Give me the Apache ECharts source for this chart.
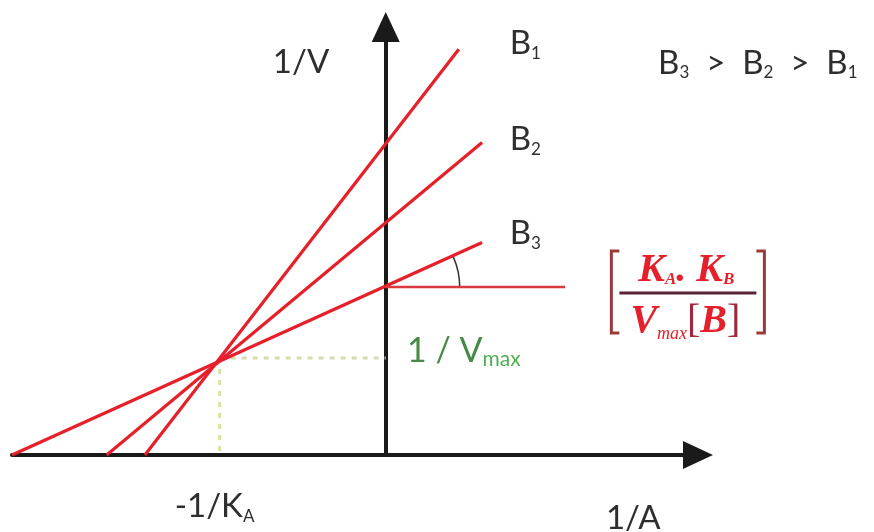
<!DOCTYPE html>
<html>
<head>
<meta charset="utf-8">
<script src="https://cdn.jsdelivr.net/npm/echarts@6/dist/echarts.min.js"></script>
<style>
  html, body { margin: 0; background: #ffffff; }
  #main { width: 874px; height: 532px; }
</style>
</head>
<body>
<div id="main"></div>
<script>
// 坐标范围：横轴 1/A，纵轴 1/V（-1/KA 记为 -1，1/Vmax 记为 1）
const xRange = [-2.25, 1.88];
const yRange = [0, 4.41];

// 三条直线 B1 B2 B3，起点在横轴上
const lineNames = ['B1', 'B2', 'B3'];
const lineStart = [[-1.45, 0], [-1.68, 0], [-2.25, 0]];
const lineEnd = [[0.44, 4.18], [0.58, 3.22], [0.58, 2.19]];

// 交点 (-1/KA, 1/Vmax)
const crossPoint = [-1, 1];
// B3 的纵轴截距 和 斜率示意水平线终点
const b3Intercept = 1.73;
const slopeLineEnd = 1.08;

// 文字标注（数据坐标）
const labelTexts = [
  '{n|1/V}',
  '{n|B}{s|1}',
  '{n|B}{s|2}',
  '{n|B}{s|3}',
  '{n|B}{s|3}{n|  >  B}{s|2}{n|  >  B}{s|1}',
  '{g|1 / V}{gs|max}',
  '{n|-1/K}{s|A}',
  '{n|1/A}'
];
const labelPos = [
  [-0.51, 4.05],
  [0.84, 4.24],
  [0.84, 3.25],
  [0.84, 2.28],
  [2.24, 4.04],
  [0.47, 1.07],
  [-1.03, -0.53],
  [1.49, -0.65]
];
// 斜率公式的位置
const fracPos = [1.81, 1.67];

const red = '#e6202b';

let chart = echarts.init(document.getElementById('main'));

let series = [];
lineNames.forEach(function (name, i) {
  series.push({
    name: name,
    type: 'line',
    data: [lineStart[i], lineEnd[i]],
    symbol: 'none',
    clip: false,
    lineStyle: { color: red, width: 3.2 }
  });
});
// 斜率示意水平线
series.push({
  type: 'line',
  data: [[0, b3Intercept], [slopeLineEnd, b3Intercept]],
  symbol: 'none',
  lineStyle: { color: '#d83a40', width: 2.5 }
});
// 虚线 到 1/Vmax 和 -1/KA
series.push({
  type: 'line',
  data: [crossPoint, [0, crossPoint[1]]],
  symbol: 'none',
  z: 1,
  lineStyle: { color: '#d3dcae', width: 3, type: [5, 6] }
});
series.push({
  type: 'line',
  data: [crossPoint, [crossPoint[0], 0]],
  symbol: 'none',
  z: 1,
  lineStyle: { color: '#dbe2a4', width: 3, type: [5, 6] }
});
// 角度弧
series.push({
  type: 'custom',
  data: [[0, b3Intercept]],
  renderItem: function (params, api) {
    let c = api.coord([api.value(0), api.value(1)]);
    let a = api.coord(lineStart[2]);
    let b = api.coord(lineEnd[2]);
    let ang = Math.atan2(b[1] - a[1], b[0] - a[0]);
    return {
      type: 'arc',
      shape: { cx: c[0], cy: c[1], r: 74, startAngle: ang, endAngle: 0, clockwise: true },
      style: { stroke: '#333333', lineWidth: 1.5, fill: null }
    };
  }
});

let axisCommon = {
  type: 'value',
  axisLine: {
    onZero: true,
    symbol: ['none', 'triangle'],
    symbolSize: [28, 30],
    lineStyle: { color: '#1a1a1a', width: 4 }
  },
  axisTick: { show: false },
  axisLabel: { show: false },
  splitLine: { show: false }
};

let option = {
  backgroundColor: '#ffffff',
  animation: false,
  grid: { left: 12, right: 176, top: 27, bottom: 77 },
  xAxis: Object.assign({ min: xRange[0], max: xRange[1] }, axisCommon),
  yAxis: Object.assign({ min: yRange[0], max: yRange[1] }, axisCommon),
  series: series
};
chart.setOption(option);

// 标注文字
let rich = {
  n: { fontFamily: 'Lato', fontSize: 33, fill: '#2e2e2e' },
  s: { fontFamily: 'Lato', fontSize: 17, fill: '#2e2e2e', padding: [20, 0, 0, 0] },
  g: { fontFamily: 'Lato', fontSize: 34, fill: '#468a46' },
  gs: { fontFamily: 'Lato', fontSize: 21, fill: '#4fae4f', padding: [16, 0, 0, 0] }
};
let graphics = labelTexts.map(function (t, i) {
  let p = chart.convertToPixel({ gridIndex: 0 }, labelPos[i]);
  return {
    type: 'text',
    x: p[0], y: p[1],
    silent: true,
    style: { text: t, rich: rich, align: 'center', verticalAlign: 'middle' }
  };
});

// 斜率 KA.KB / Vmax[B]
let f = chart.convertToPixel({ gridIndex: 0 }, fracPos);
let fracRich = {
  k: { fontFamily: 'Liberation Serif', fontStyle: 'italic', fontWeight: 'bold', fontSize: 40, fill: red },
  s: { fontFamily: 'Liberation Serif', fontStyle: 'italic', fontWeight: 'bold', fontSize: 17, fill: red, padding: [18, 0, 0, 0] },
  m: { fontFamily: 'Liberation Serif', fontStyle: 'italic', fontSize: 18, fill: red, padding: [24, 0, 0, 0] },
  b: { fontFamily: 'Liberation Serif', fontSize: 40, fill: '#a0283a' }
};
graphics.push({
  type: 'text', x: f[0], y: f[1] - 22, silent: true,
  style: { text: '{k|K}{s|A}{k|. K}{s|B}', rich: fracRich, align: 'center', verticalAlign: 'middle' }
});
graphics.push({
  type: 'text', x: f[0] - 1, y: f[1] + 29, silent: true,
  style: { text: '{k|V}{m|max}{b|[}{k|B}{b|]}', rich: fracRich, align: 'center', verticalAlign: 'middle' }
});
graphics.push({
  type: 'line', silent: true,
  shape: { x1: f[0] - 67, y1: f[1], x2: f[0] + 70, y2: f[1] },
  style: { stroke: '#5a2438', lineWidth: 3 }
});
graphics.push({
  type: 'polyline', silent: true,
  shape: { points: [[f[0] - 67, f[1] - 42], [f[0] - 75, f[1] - 42], [f[0] - 75, f[1] + 40], [f[0] - 67, f[1] + 40]] },
  style: { stroke: '#9a3a3a', lineWidth: 3, fill: null }
});
graphics.push({
  type: 'polyline', silent: true,
  shape: { points: [[f[0] + 70, f[1] - 42], [f[0] + 78, f[1] - 42], [f[0] + 78, f[1] + 40], [f[0] + 70, f[1] + 40]] },
  style: { stroke: '#9a3a3a', lineWidth: 3, fill: null }
});

chart.setOption({ graphic: graphics });
</script>
</body>
</html>
